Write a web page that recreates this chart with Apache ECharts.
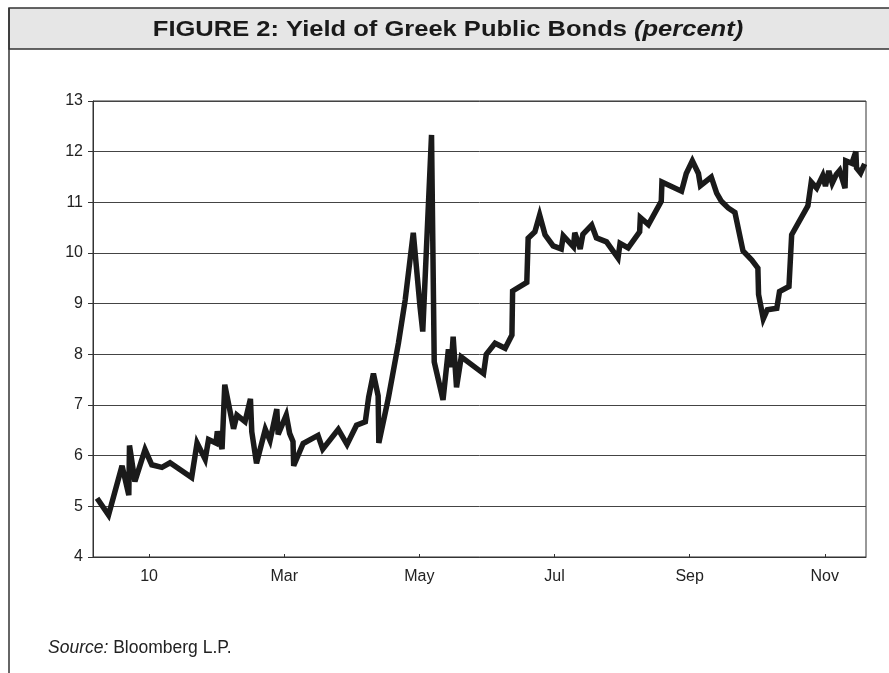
<!DOCTYPE html>
<html>
<head>
<meta charset="utf-8">
<script src="https://cdn.jsdelivr.net/npm/echarts@6/dist/echarts.min.js"></script>
<style>
html, body { margin: 0; padding: 0; background: #fff; }
#chart { width: 889px; height: 673px; }
</style>
</head>
<body>
<div id="chart"></div>
<script>
// position in months since Jan 2010 (0 = Jan, 2 = Mar, ...)
var monthPos = [
  -0.77, -0.60, -0.40, -0.30, -0.29, -0.21, -0.06, 0.04, 0.19, 0.31,
  0.63, 0.71, 0.83, 0.88, 0.99, 1.01, 1.08, 1.12, 1.25, 1.30,
  1.42, 1.50, 1.52, 1.59, 1.72, 1.79, 1.89, 1.91, 2.03, 2.08,
  2.13, 2.14, 2.28, 2.50, 2.57, 2.80, 2.93, 3.07, 3.20, 3.25,
  3.32, 3.39, 3.40, 3.54, 3.69, 3.79, 3.91, 4.01, 4.05, 4.18,
  4.22, 4.35, 4.43, 4.47, 4.50, 4.55, 4.62, 4.95, 4.99, 5.12,
  5.27, 5.37, 5.38, 5.59, 5.61, 5.71, 5.78, 5.86, 5.98, 6.10,
  6.13, 6.28, 6.30, 6.38, 6.42, 6.55, 6.62, 6.77, 6.94, 6.97,
  7.09, 7.26, 7.27, 7.39, 7.58, 7.59, 7.88, 7.95, 8.04, 8.13,
  8.16, 8.32, 8.40, 8.47, 8.57, 8.67, 8.79, 8.92, 9.01, 9.02,
  9.09, 9.15, 9.29, 9.33, 9.47, 9.51, 9.75, 9.80, 9.88, 9.97,
  10.01, 10.06, 10.11, 10.17, 10.22, 10.30, 10.31, 10.40, 10.46, 10.47,
  10.53, 10.59
];
var yieldPct = [
  5.16, 4.83, 5.80, 5.22, 6.20, 5.49, 6.12, 5.82, 5.77, 5.86,
  5.57, 6.25, 5.93, 6.32, 6.25, 6.48, 6.13, 7.40, 6.53, 6.80,
  6.67, 7.12, 6.47, 5.85, 6.52, 6.30, 6.92, 6.42, 6.80, 6.44,
  6.28, 5.80, 6.24, 6.40, 6.13, 6.52, 6.22, 6.60, 6.67, 7.16,
  7.62, 7.18, 6.25, 7.13, 8.22, 9.07, 10.40, 8.94, 8.45, 12.33,
  7.85, 7.10, 8.10, 7.75, 8.35, 7.35, 7.95, 7.62, 8.00, 8.22,
  8.12, 8.38, 9.25, 9.42, 10.29, 10.42, 10.75, 10.36, 10.14, 10.08,
  10.34, 10.12, 10.40, 10.08, 10.37, 10.55, 10.30, 10.22, 9.90, 10.19,
  10.10, 10.42, 10.70, 10.56, 11.02, 11.40, 11.22, 11.57, 11.82, 11.57,
  11.33, 11.50, 11.18, 11.02, 10.89, 10.80, 10.04, 9.86, 9.70, 9.18,
  8.70, 8.88, 8.91, 9.24, 9.34, 10.36, 10.93, 11.40, 11.28, 11.53,
  11.32, 11.62, 11.38, 11.55, 11.63, 11.28, 11.82, 11.77, 12.00, 11.68,
  11.58, 11.76
];
var tickPos = [0, 2, 4, 6, 8, 10];
var tickLabels = ['10', 'Mar', 'May', 'Jul', 'Sep', 'Nov'];

var seriesData = monthPos.map(function (m, i) { return [m, yieldPct[i]]; });

var myChart = echarts.init(document.getElementById('chart'), null, { renderer: 'canvas' });
var option = {
  backgroundColor: '#fff',
  animation: false,
  graphic: [
    { type: 'rect', z: -1, shape: { x: 9, y: 8, width: 890, height: 41 }, style: { fill: '#e6e6e6', stroke: '#333', lineWidth: 1.5 } },
    { type: 'line', shape: { x1: 9, y1: 8, x2: 9, y2: 673 }, style: { stroke: '#333', lineWidth: 1.5 } },
    {
      type: 'text', x: 448, y: 30, scaleX: 1.16, z: 10,
      style: {
        text: '{a|FIGURE 2: Yield of Greek Public Bonds }{b|(percent)}',
        align: 'center',
        verticalAlign: 'middle',
        rich: {
          a: { fontFamily: 'Liberation Sans, sans-serif', fontWeight: 'bold', fontSize: 22, fill: '#1a1a1a' },
          b: { fontFamily: 'Liberation Sans, sans-serif', fontWeight: 'bold', fontStyle: 'italic', fontSize: 22, fill: '#1a1a1a' }
        }
      }
    },
    {
      type: 'text', left: 48, top: 639,
      style: {
        text: '{i|Source:} Bloomberg L.P.',
        font: '17.5px Liberation Sans, sans-serif',
        fill: '#222',
        rich: { i: { fontStyle: 'italic', fontSize: 17.5, fontFamily: 'Liberation Sans, sans-serif', fill: '#222' } }
      }
    }
  ],
  grid: {
    left: 93, right: 23, top: 101, bottom: 116,
    show: true, borderColor: '#333', borderWidth: 1
  },
  xAxis: {
    type: 'value',
    min: -0.83,
    max: 10.61,
    axisLine: { show: true, onZero: false, lineStyle: { color: '#333', width: 1 } },
    axisTick: { show: true, inside: true, length: 3, customValues: tickPos, lineStyle: { color: '#333' } },
    axisLabel: {
      customValues: tickPos,
      margin: 12,
      fontFamily: 'Liberation Sans, sans-serif',
      fontSize: 16,
      color: '#222',
      formatter: function (v) { return tickLabels[tickPos.indexOf(Math.round(v))]; }
    },
    splitLine: { show: false }
  },
  yAxis: {
    type: 'value',
    min: 4,
    max: 13,
    interval: 1,
    axisLine: { show: true, onZero: false, lineStyle: { color: '#333', width: 1 } },
    axisTick: { show: true, length: 5, lineStyle: { color: '#333' } },
    axisLabel: { margin: 10, fontFamily: 'Liberation Sans, sans-serif', fontSize: 16, color: '#222' },
    splitLine: { show: true, lineStyle: { color: '#444', width: 1 } }
  },
  series: [
    {
      type: 'line',
      data: seriesData,
      showSymbol: false,
      symbol: 'none',
      lineStyle: { color: '#1a1a1a', width: 5.5, join: 'miter', miterLimit: 4 }
    }
  ]
};
myChart.setOption(option);
</script>
</body>
</html>
